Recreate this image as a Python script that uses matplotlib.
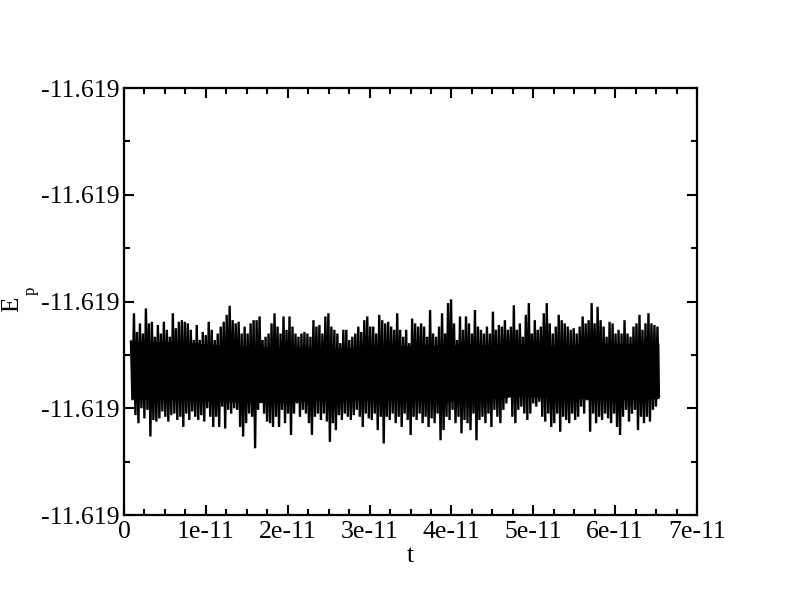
import numpy as np
import matplotlib
matplotlib.use("Agg")
import matplotlib.pyplot as plt
from matplotlib.ticker import MultipleLocator, FormatStrFormatter

# ---- data ----
# Potential energy is shown as offsets (in 1e-6 units) above the axis base.
ep_base = -11.6194
ep_scale = 1e-6
# local maxima (upper envelope) of the fluctuating signal
ep_hi_off = [
    325, 378, 343, 359, 340, 387, 359, 362, 334, 356, 340, 362, 347, 334, 378,
    350, 362, 365, 362, 359, 347, 328, 356, 328, 343, 337, 362, 347, 328,
    340, 353, 362, 375, 392, 365, 359, 362, 340, 353, 340, 359, 365, 365, 372,
    328, 334, 340, 359, 378, 353, 340, 372, 347, 372, 353, 340, 334, 340, 343,
    340, 334, 365, 353, 356, 340, 372, 378, 353, 347, 340, 322, 347, 347, 328,
    334, 340, 353, 343, 365, 372, 353, 353, 340, 375, 365, 359, 362, 353, 347,
    378, 347, 334, 347, 322, 368, 359, 353, 359, 353, 334, 384, 340, 334, 353,
    378, 340, 397, 404, 359, 328, 372, 347, 372, 359, 340, 384, 353, 347, 340,
    353, 340, 381, 347, 356, 353, 365, 347, 353, 393, 347, 359, 334, 375, 397,
    340, 365, 347, 353, 378, 397, 359, 340, 353, 375, 365, 359, 353, 347, 350,
    340, 353, 372, 359, 365, 397, 359, 390, 365, 353, 334, 362, 359, 340, 347,
    340, 365, 340, 334, 353, 359, 375, 347, 359, 378, 359, 356, 353,
]
# local minima (lower envelope) of the fluctuating signal
ep_lo_off = [
    215, 187, 172, 200, 181, 197, 147, 178, 175, 181, 194, 184, 175, 187, 190,
    178, 184, 165, 190, 178, 194, 184, 178, 187, 175, 200, 184, 165, 184,
    165, 203, 162, 197, 190, 200, 197, 165, 147, 172, 190, 184, 125, 197, 215,
    190, 175, 172, 165, 184, 165, 197, 172, 190, 150, 190, 209, 184, 197, 190,
    172, 150, 184, 190, 178, 190, 175, 137, 172, 159, 187, 178, 190, 184, 178,
    187, 197, 184, 165, 190, 181, 178, 190, 159, 184, 134, 184, 178, 190, 172,
    184, 165, 190, 178, 150, 184, 178, 190, 172, 184, 165, 181, 172, 190, 140,
    159, 184, 178, 197, 172, 184, 153, 178, 172, 159, 190, 140, 178, 184, 172,
    190, 165, 197, 184, 172, 197, 209, 222, 184, 172, 197, 203, 190, 178, 190,
    209, 203, 212, 184, 175, 190, 165, 172, 190, 156, 184, 178, 172, 190, 178,
    184, 203, 190, 215, 156, 190, 172, 184, 178, 190, 181, 172, 190, 165, 150,
    184, 197, 175, 190, 197, 159, 184, 172, 184, 175, 197, 203, 222,
]
# edges of the densely packed (solid) core of the trace
core_hi_off = [325, 325, 318, 315, 312, 315, 318, 320, 318, 318, 322, 322]
core_lo_off = [218, 215, 212, 210, 215, 215, 215, 213, 222, 220, 215, 218]
t_start = 8.5e-13
t_end = 6.535e-11

# ---- build series ----
hi = ep_base + np.array(ep_hi_off) * ep_scale
lo = ep_base + np.array(ep_lo_off) * ep_scale
ep = np.empty(hi.size + lo.size)
ep[0::2] = hi
ep[1::2] = lo
t = np.linspace(t_start, t_end, ep.size)
core_hi = ep_base + np.array(core_hi_off) * ep_scale
core_lo = ep_base + np.array(core_lo_off) * ep_scale
t_core = np.linspace(t_start, t_end, len(core_hi))

plt.rcParams["font.family"] = ["Liberation Serif", "DejaVu Serif"]

fig = plt.figure(figsize=(7.92, 6.07), dpi=100)
ax = fig.add_axes([124 / 792, 92 / 607, 573 / 792, 427 / 607])

ax.fill_between(t_core, core_lo, core_hi, color="black", lw=0)
ax.plot(t, ep, color="black", lw=1.7, solid_joinstyle="miter")

ax.set_xlim(0, 7e-11)
ax.set_ylim(-11.6194, -11.6186)
ax.xaxis.set_major_locator(MultipleLocator(1e-11))
ax.xaxis.set_minor_locator(MultipleLocator(0.25e-11))
ax.yaxis.set_major_locator(MultipleLocator(0.0002))
ax.yaxis.set_minor_locator(MultipleLocator(0.0001))
ax.yaxis.set_major_formatter(FormatStrFormatter("%.3f"))
ax.xaxis.set_major_formatter(
    plt.FuncFormatter(lambda v, p: "0" if abs(v) < 1e-20 else "%de-11" % round(v / 1e-11))
)

ax.tick_params(which="both", direction="in", top=True, right=True, width=1.5,
               labelsize=18.5)
ax.tick_params(which="major", length=7.5)
ax.tick_params(axis="y", which="major", pad=3)
ax.tick_params(axis="x", which="major", pad=4)
ax.tick_params(which="minor", length=4)
for s in ax.spines.values():
    s.set_linewidth(1.6)

ax.set_xlabel("t", fontsize=18.5, labelpad=2)
# y label "E" with a deeply lowered subscript "p", as in the original
fig.text(12 / 792, 1 - 304 / 607, "E", rotation=90, fontsize=18,
         ha="center", va="center")
fig.text(31 / 792, 1 - 291 / 607, "p", rotation=90, fontsize=12,
         ha="center", va="center")

fig.savefig("out.png", dpi=100, facecolor="white")
